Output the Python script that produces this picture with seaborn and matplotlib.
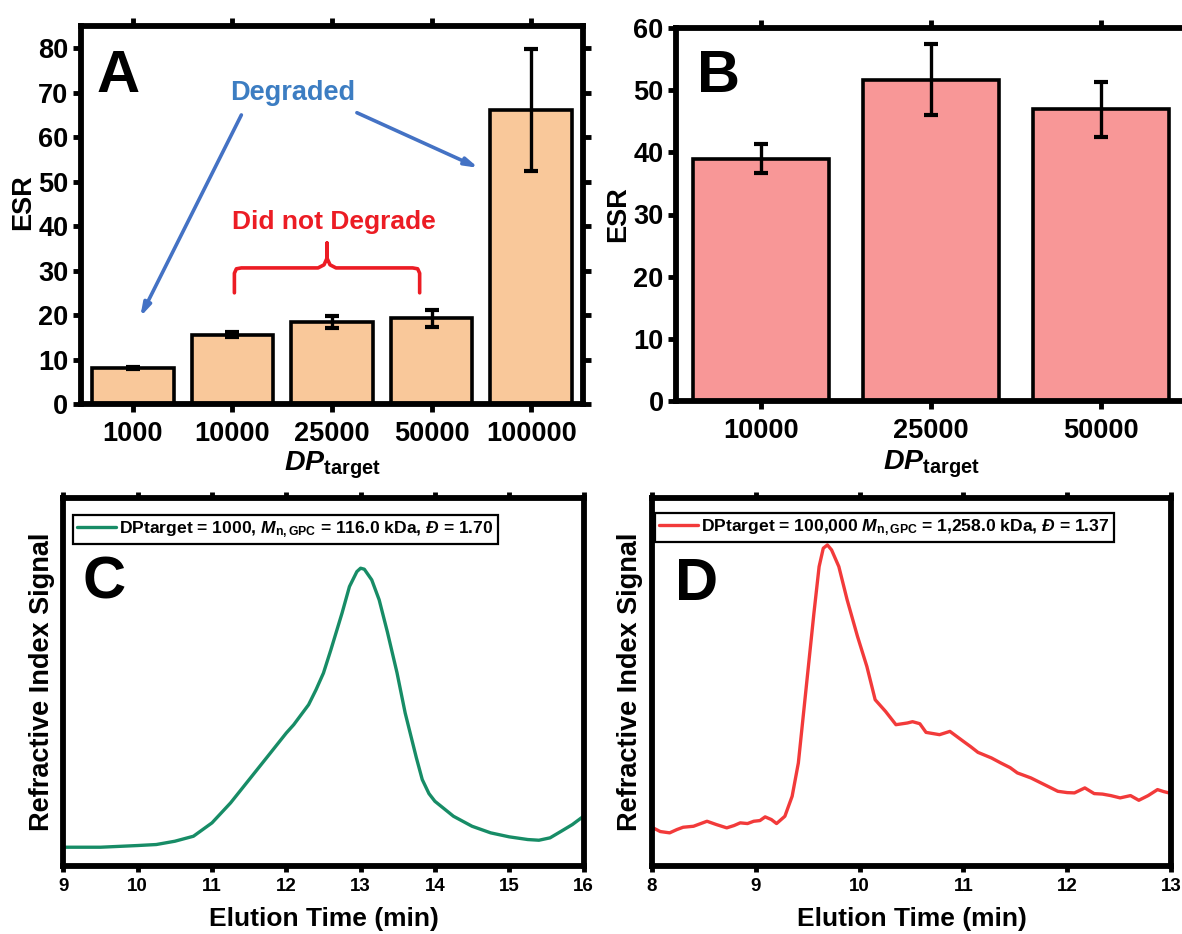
import numpy as np
import pandas as pd
import matplotlib
matplotlib.use("Agg")
import matplotlib.pyplot as plt
import seaborn as sns

# ---------------- data ----------------
dp_a = ["1000", "10000", "25000", "50000", "100000"]
esr_a = [8.1, 15.6, 18.4, 19.3, 66.1]
err_a = [0.3, 0.6, 1.3, 1.9, 13.75]

dp_b = ["10000", "25000", "50000"]
esr_b = [39.0, 51.7, 46.9]
err_b = [2.3, 5.7, 4.4]

# GPC trace, DPtarget = 1000 (elution time in min, RI signal in arb. units)
time_c = [9.0, 9.5, 10.0, 10.25, 10.5, 10.75, 11.0, 11.25, 11.5, 11.75, 12.0, 12.1,
          12.2, 12.3, 12.4, 12.5, 12.6, 12.75, 12.85, 12.95, 13.0, 13.05, 13.15, 13.25,
          13.36, 13.49, 13.6, 13.75, 13.83, 13.92, 14.0, 14.25, 14.5, 14.75, 15.0, 15.25,
          15.4, 15.55, 15.7, 15.85, 16.0]
ri_c = [0.203, 0.203, 0.22, 0.23, 0.263, 0.313, 0.447, 0.647, 0.88, 1.113, 1.347, 1.43,
        1.53, 1.63, 1.78, 1.947, 2.18, 2.547, 2.813, 2.963, 2.997, 2.987, 2.88, 2.68,
        2.36, 1.95, 1.547, 1.10, 0.88, 0.74, 0.663, 0.513, 0.413, 0.347, 0.307, 0.28,
        0.273, 0.297, 0.363, 0.43, 0.513]

# GPC trace, DPtarget = 100,000
time_d = [8.01, 8.08, 8.17, 8.24, 8.30, 8.40, 8.47, 8.53, 8.62, 8.72, 8.79, 8.85,
          8.92, 8.98, 9.04, 9.09, 9.15, 9.20, 9.28, 9.35, 9.41, 9.46, 9.51, 9.56,
          9.61, 9.65, 9.69, 9.73, 9.80, 9.88, 9.98, 10.07, 10.15, 10.25, 10.35, 10.46,
          10.51, 10.58, 10.64, 10.77, 10.87, 11.00, 11.07, 11.14, 11.27, 11.36, 11.45,
          11.52, 11.65, 11.78, 11.91, 12.00, 12.07, 12.17, 12.26, 12.34, 12.42, 12.51,
          12.61, 12.69, 12.78, 12.87, 12.93, 12.98]
ri_d = [0.397, 0.36, 0.347, 0.38, 0.403, 0.413, 0.44, 0.463, 0.43, 0.397, 0.42, 0.447,
        0.44, 0.463, 0.47, 0.507, 0.48, 0.44, 0.513, 0.713, 1.047, 1.547, 2.047, 2.547,
        3.013, 3.197, 3.23, 3.18, 3.013, 2.68, 2.313, 2.013, 1.68, 1.563, 1.43, 1.447,
        1.46, 1.44, 1.353, 1.33, 1.363, 1.263, 1.21, 1.153, 1.097, 1.047, 1.0,
        0.947, 0.897, 0.83, 0.763, 0.75, 0.747, 0.797, 0.74, 0.735, 0.72, 0.697,
        0.72, 0.673, 0.72, 0.78, 0.76, 0.747]

label_c = r"DPtarget = 1000, $M_{\mathrm{n,GPC}}$ = 116.0 kDa, $Đ$ = 1.70"
label_d = r"DPtarget = 100,000 $M_{\mathrm{n,GPC}}$ = 1,258.0 kDa, $Đ$ = 1.37"

# ---------------- style ----------------
sns.set_style("ticks")
plt.rcParams.update({
    "font.family": ["Liberation Sans", "DejaVu Sans"],
    "font.weight": "bold",
    "axes.labelweight": "bold",
    "mathtext.fontset": "custom",
    "mathtext.rm": "Liberation Sans:bold",
    "mathtext.it": "Liberation Sans:italic:bold",
    "mathtext.bf": "Liberation Sans:bold",
    "mathtext.sf": "Liberation Sans:bold",
    "axes.linewidth": 4.2,
    "axes.edgecolor": "black",
    "text.color": "black",
    "axes.labelcolor": "black",
    "xtick.color": "black",
    "ytick.color": "black",
    "xtick.labelcolor": "black",
    "ytick.labelcolor": "black",
})

PEACH = "#F9C89A"
SALMON = "#F89797"
GREEN = "#178C66"
RED_LINE = "#F23A3A"
BLUE = "#4472C4"
BLUE_TXT = "#3C7DC2"
RED_TXT = "#EC1C24"

fig = plt.figure(figsize=(11.82, 9.34), dpi=100)
W, H = 1182, 934


def axes_px(left, top, right, bottom):
    return fig.add_axes([left / W, 1 - bottom / H, (right - left) / W, (bottom - top) / H])


def style_bar_axes(ax):
    ax.tick_params(axis="both", which="major", direction="out", length=6, width=3.5,
                   top=True, right=True, labeltop=False, labelright=False,
                   labelsize=19.5)
    ax.tick_params(axis="x", pad=6)
    ax.tick_params(axis="y", pad=3)
    for lab in ax.get_xticklabels() + ax.get_yticklabels():
        lab.set_fontweight("bold")


# ---------------- panel A ----------------
axA = axes_px(81, 26, 583, 404)
df_a = pd.DataFrame({"dp": dp_a, "esr": esr_a})
sns.barplot(data=df_a, x="dp", y="esr", order=dp_a, color=PEACH, saturation=1,
            edgecolor="black", linewidth=2.6, width=0.82, errorbar=None, ax=axA)
axA.errorbar(np.arange(len(dp_a)), esr_a, yerr=err_a, fmt="none", ecolor="black",
             elinewidth=2.4, capsize=5, capthick=3, zorder=5)
axA.set_xlim(-0.52, 4.52)
axA.set_ylim(0, 85)
axA.set_yticks(np.arange(0, 81, 10))
style_bar_axes(axA)
axA.set_ylabel("ESR", fontsize=19.5)
axA.yaxis.set_label_coords(-0.09, 0.534)
axA.set_xlabel(r"$DP_{\mathrm{target}}$", fontsize=20.5)
axA.xaxis.set_label_coords(0.5, -0.12)
axA.text(0.03, 0.825, "A", transform=axA.transAxes, fontsize=43, fontweight="bold",
         va="baseline", ha="left")

# annotations on A
axA.text(1.61, 70.0, "Degraded", color=BLUE_TXT, fontsize=19.5, fontweight="bold",
         ha="center", va="center")
arrow_kw = dict(arrowstyle="-|>,head_length=0.75,head_width=0.22", color=BLUE, lw=2.6,
                shrinkA=0, shrinkB=0)
axA.annotate("", xy=(0.075, 19.6), xytext=(1.09, 65.0), arrowprops=arrow_kw)
axA.annotate("", xy=(3.47, 53.1), xytext=(2.25, 65.5), arrowprops=arrow_kw)
axA.text(2.02, 40.9, "Did not Degrade", color=RED_TXT, fontsize=19, fontweight="bold",
         ha="center", va="center")
bx = [1.02, 1.02, 1.04, 1.09, 1.86, 1.92, 1.95, 1.95, 1.95, 1.98, 2.04, 2.81, 2.86, 2.88, 2.88]
by = [25.0, 29.4, 30.4, 30.6, 30.6, 31.3, 32.8, 36.2, 32.8, 31.3, 30.6, 30.6, 30.4, 29.4, 25.0]
axA.plot(bx, by, color=RED_TXT, lw=2.6, solid_joinstyle="round")

# ---------------- panel B ----------------
axB = axes_px(676, 28, 1186, 401)
df_b = pd.DataFrame({"dp": dp_b, "esr": esr_b})
sns.barplot(data=df_b, x="dp", y="esr", order=dp_b, color=SALMON, saturation=1,
            edgecolor="black", linewidth=2.6, width=0.80, errorbar=None, ax=axB)
axB.errorbar(np.arange(len(dp_b)), esr_b, yerr=err_b, fmt="none", ecolor="black",
             elinewidth=2.4, capsize=5, capthick=3, zorder=5)
axB.set_xlim(-0.5, 2.5)
axB.set_ylim(0, 60)
axB.set_yticks(np.arange(0, 61, 10))
style_bar_axes(axB)
axB.set_ylabel("ESR", fontsize=19.5)
axB.yaxis.set_label_coords(-0.088, 0.5)
axB.set_xlabel(r"$DP_{\mathrm{target}}$", fontsize=20.5)
axB.xaxis.set_label_coords(0.5, -0.128)
axB.text(0.042, 0.829, "B", transform=axB.transAxes, fontsize=43, fontweight="bold",
         va="baseline", ha="left")


# ---------------- panels C and D ----------------
def style_gpc_axes(ax):
    ax.tick_params(axis="x", which="major", direction="out", length=4, width=3.5,
                   top=True, bottom=True, labeltop=False, labelsize=13.5, pad=5)
    ax.tick_params(axis="y", left=False, right=False, labelleft=False)
    for lab in ax.get_xticklabels():
        lab.set_fontweight("bold")
    ax.set_xlabel("Elution Time (min)", fontsize=19)
    ax.xaxis.set_label_coords(0.5, -0.114)


def add_legend(ax, anchor):
    leg = ax.legend(loc="upper left", bbox_to_anchor=anchor, borderaxespad=0,
                    fontsize=12.6, frameon=True, fancybox=False, framealpha=1,
                    edgecolor="black", handlelength=2.2, handletextpad=0.2,
                    borderpad=0.25)
    leg.get_frame().set_linewidth(1.6)
    for t in leg.get_texts():
        t.set_fontweight("bold")


axC = axes_px(63.4, 498, 583.5, 865.5)
df_c = pd.DataFrame({"t": time_c, "ri": ri_c})
sns.lineplot(data=df_c, x="t", y="ri", color=GREEN, lw=2.4, sort=False,
             estimator=None, ax=axC, label=label_c)
axC.set_xlim(9, 16)
axC.set_ylim(0.02, 3.70)
axC.set_xticks(np.arange(9, 17, 1))
style_gpc_axes(axC)
axC.set_ylabel("Refractive Index Signal", fontsize=19.5)
axC.yaxis.set_label_coords(-0.016, 0.5)
add_legend(axC, (0.018, 0.955))
axC.text(0.036, 0.727, "C", transform=axC.transAxes, fontsize=43, fontweight="bold",
         va="baseline", ha="left")

axD = axes_px(652, 498, 1171, 865.5)
df_d = pd.DataFrame({"t": time_d, "ri": ri_d})
sns.lineplot(data=df_d, x="t", y="ri", color=RED_LINE, lw=2.4, sort=False,
             estimator=None, ax=axD, label=label_d)
axD.set_xlim(8, 13)
axD.set_ylim(0.02, 3.70)
axD.set_xticks(np.arange(8, 14, 1))
style_gpc_axes(axD)
axD.set_ylabel("Refractive Index Signal", fontsize=19.5)
axD.yaxis.set_label_coords(-0.018, 0.5)
add_legend(axD, (0.006, 0.959))
axD.text(0.045, 0.722, "D", transform=axD.transAxes, fontsize=43, fontweight="bold",
         va="baseline", ha="left")

fig.savefig("out.png", dpi=100)
